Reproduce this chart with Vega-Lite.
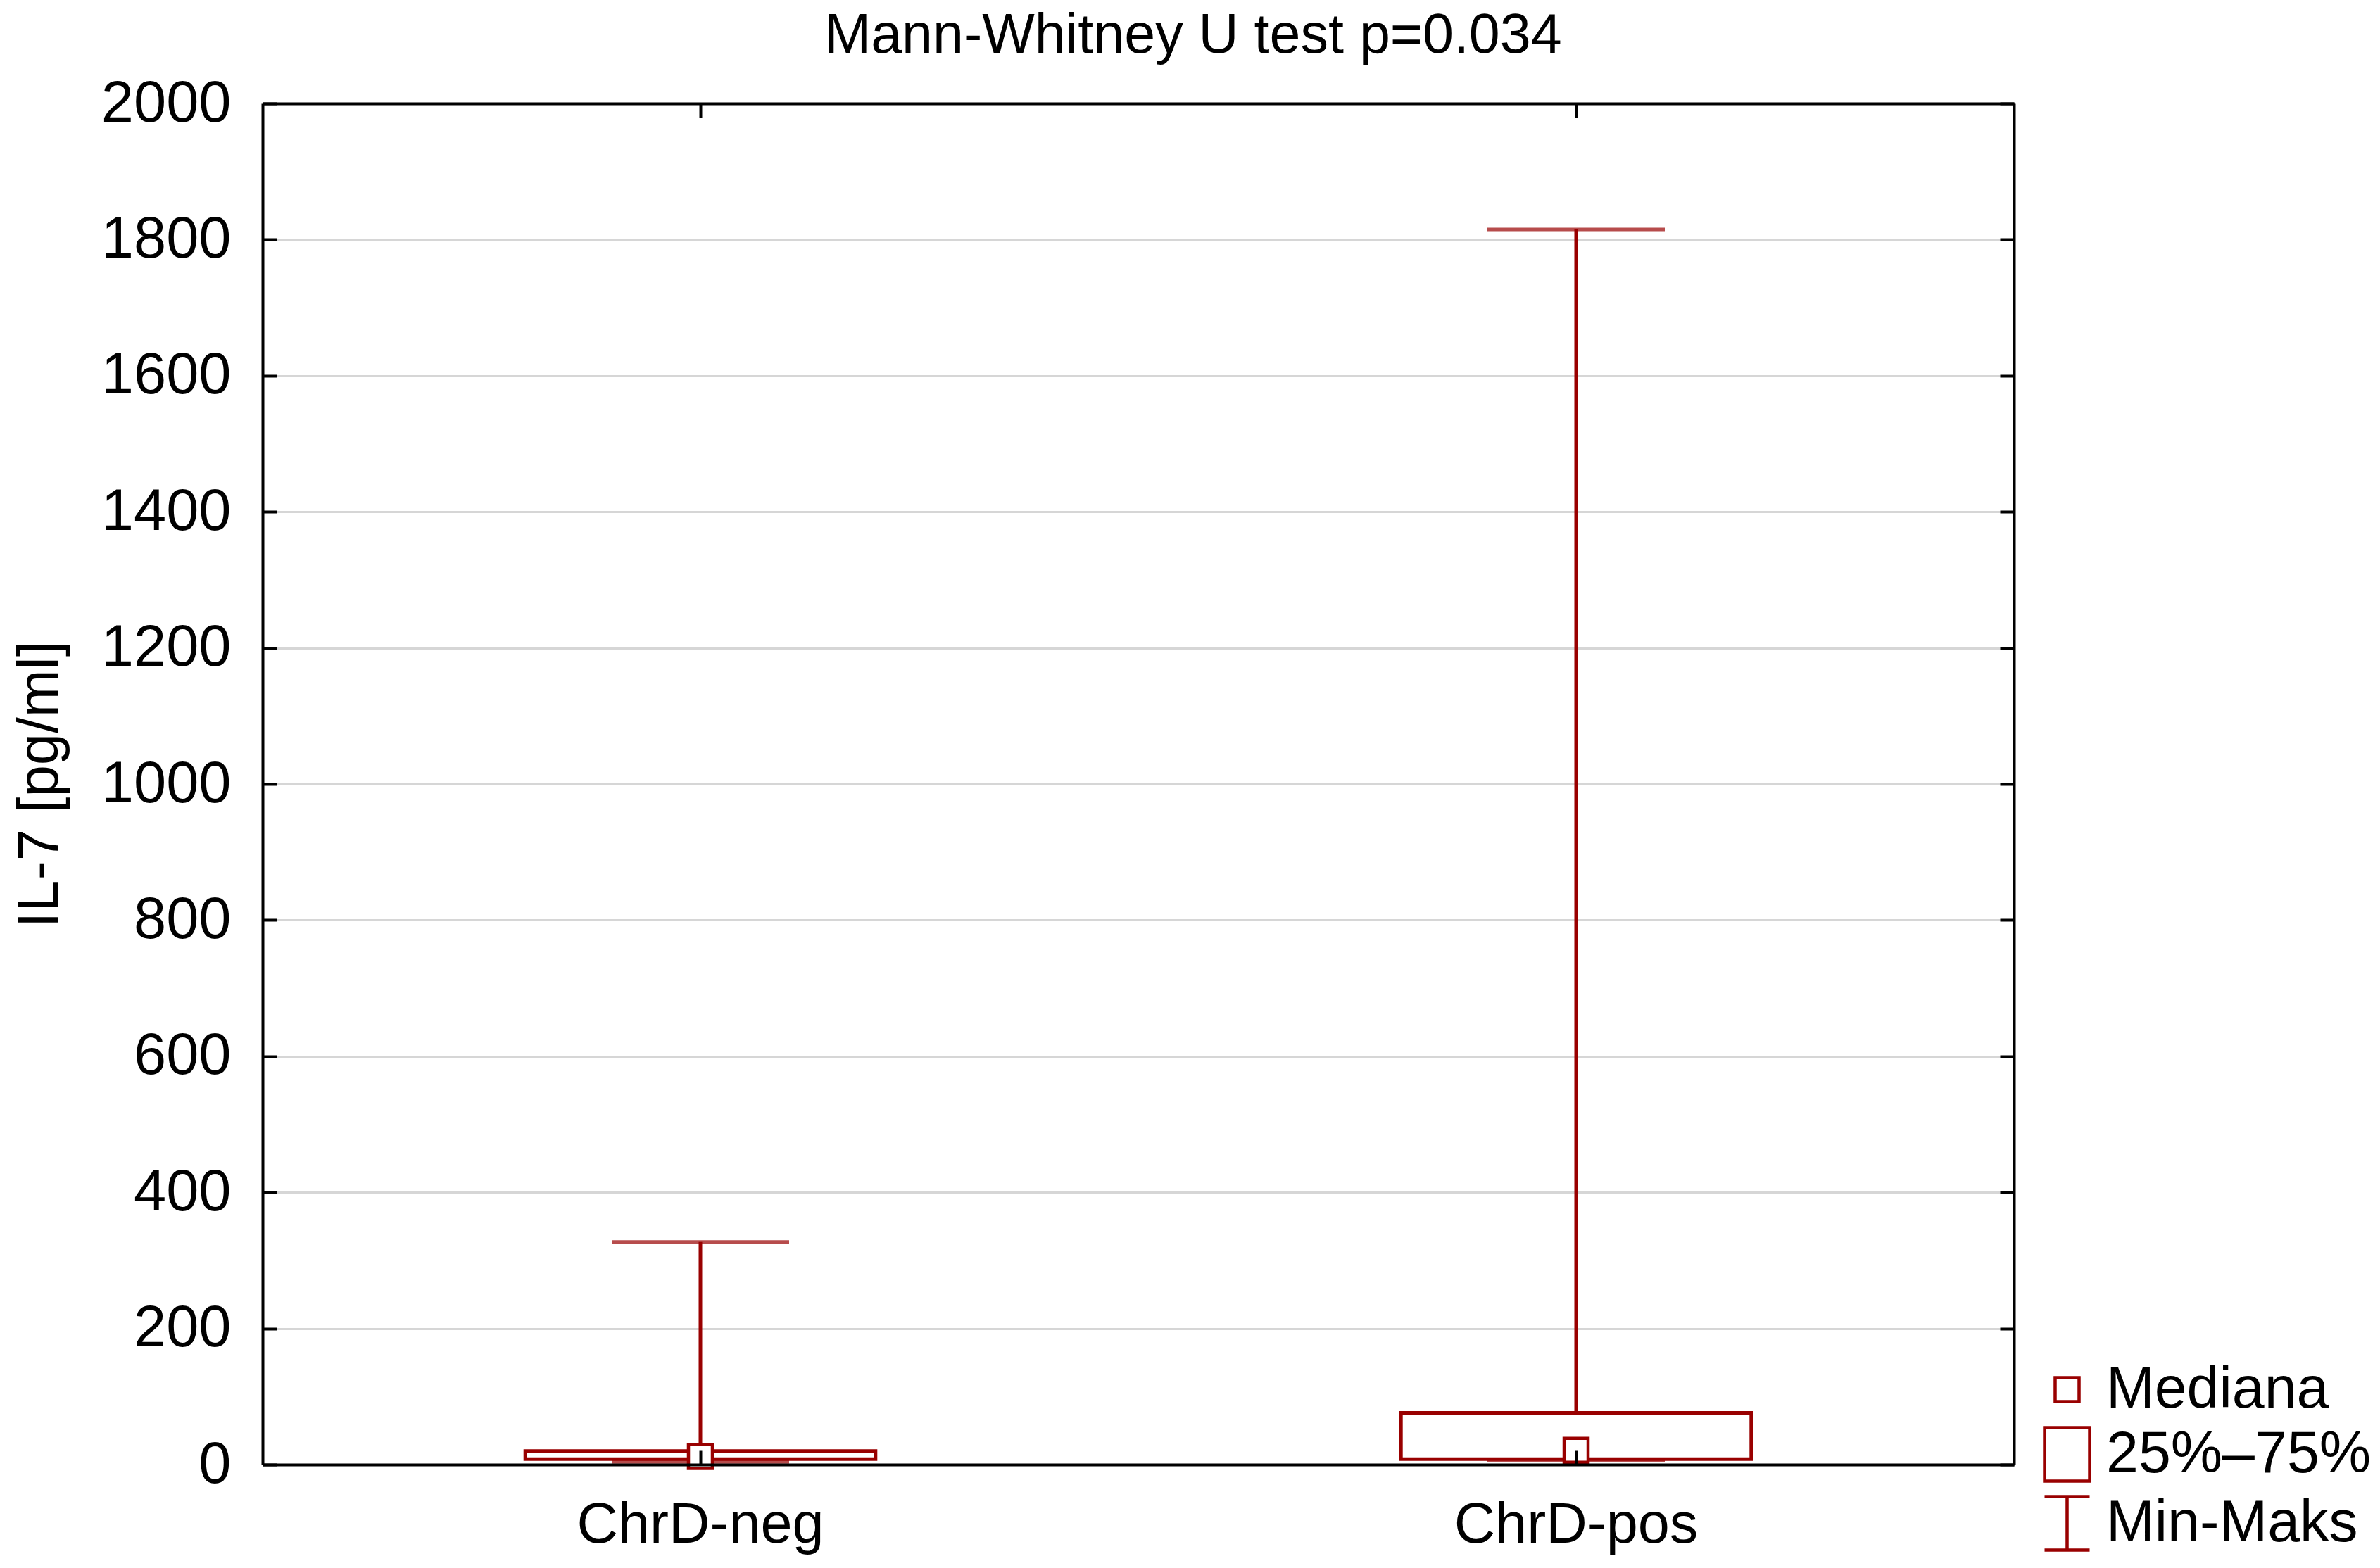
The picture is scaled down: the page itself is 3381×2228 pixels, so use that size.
{
  "$schema": "https://vega.github.io/schema/vega-lite/v6.json",
  "autosize": {"type": "none"},
  "padding": {"left": 373, "top": 147, "right": 520, "bottom": 147},
  "width": 2488,
  "height": 1934,
  "background": "white",
  "config": {
    "view": {"stroke": null},
    "font": "Liberation Sans",
    "axis": {"labelFont": "Liberation Sans", "titleFont": "Liberation Sans", "labelColor": "black", "titleColor": "black", "labelLimit": 0}
  },
  "title": {
    "text": "Mann-Whitney U test p=0.034",
    "font": "Liberation Sans",
    "fontSize": 79,
    "fontWeight": "normal",
    "color": "black",
    "anchor": "middle",
    "frame": "group",
    "dx": 78,
    "offset": 14
  },
  "data": {
    "values": [
      {"group": "ChrD-neg", "min": 4, "q1": 8, "median": 12, "q3": 20, "max": 327},
      {"group": "ChrD-pos", "min": 6, "q1": 8, "median": 21, "q3": 76, "max": 1815}
    ]
  },
  "resolve": {"axis": {"x": "independent", "y": "independent"}},
  "layer": [
    {
      "mark": {"type": "rule", "stroke": "#990000", "strokeWidth": 5},
      "encoding": {
        "x": {
          "field": "group", "type": "nominal", "sort": null,
          "scale": {"type": "band", "paddingInner": 0, "paddingOuter": 0},
          "axis": {
            "orient": "bottom", "title": null, "labelAngle": 0,
            "labelFontSize": 81, "labelPadding": 66, "tickSize": -20,
            "tickWidth": 4, "tickColor": "black", "domainColor": "black",
            "domainWidth": 4, "grid": false, "zindex": 1, "labelLimit": 0
          }
        },
        "y": {
          "field": "min", "type": "quantitative",
          "scale": {"domain": [0, 2000], "nice": false, "zero": true},
          "axis": {
            "orient": "left", "title": "IL-7 [pg/ml]", "titleFontSize": 81.5,
            "titleFontWeight": "normal", "titleX": -275, "titleBaseline": "bottom",
            "titleAngle": 270, "titleAlign": "center", "format": "d",
            "values": [0, 200, 400, 600, 800, 1000, 1200, 1400, 1600, 1800, 2000],
            "labelFontSize": 83, "labelPadding": 65, "tickSize": -20,
            "tickWidth": 4, "tickColor": "black", "domainColor": "black",
            "domainWidth": 4, "grid": true, "gridColor": "#d6d6d6",
            "gridWidth": 3, "zindex": 0, "labelFlush": false, "labelOverlap": false,
            "labelLimit": 0
          }
        },
        "y2": {"field": "max"}
      }
    },
    {
      "mark": {"type": "tick", "color": "#990000", "size": 252, "thickness": 5},
      "encoding": {
        "x": {
          "field": "group", "type": "nominal", "sort": null,
          "axis": {
            "orient": "top", "title": null, "labels": false, "tickSize": -20,
            "tickWidth": 4, "tickColor": "black", "domainColor": "black",
            "domainWidth": 4, "grid": false, "zindex": 1
          }
        },
        "y": {
          "field": "max", "type": "quantitative",
          "axis": {
            "orient": "right", "title": null, "labels": false,
            "values": [0, 200, 400, 600, 800, 1000, 1200, 1400, 1600, 1800, 2000],
            "tickSize": -20, "tickWidth": 4, "tickColor": "black",
            "domainColor": "black", "domainWidth": 4, "grid": false, "zindex": 1
          }
        }
      }
    },
    {
      "mark": {"type": "tick", "color": "#990000", "size": 252, "thickness": 5},
      "encoding": {
        "x": {"field": "group", "type": "nominal", "sort": null, "axis": null},
        "y": {"field": "min", "type": "quantitative", "axis": null}
      }
    },
    {
      "mark": {"type": "bar", "fill": "white", "stroke": "#990000", "strokeWidth": 5, "width": {"band": 0.4}},
      "encoding": {
        "x": {"field": "group", "type": "nominal", "sort": null, "axis": null},
        "y": {"field": "q1", "type": "quantitative", "axis": null},
        "y2": {"field": "q3"}
      }
    },
    {
      "mark": {"type": "point", "shape": "square", "fill": "white", "stroke": "#990000", "strokeWidth": 4.5, "size": 1156, "opacity": 1, "fillOpacity": 1},
      "encoding": {
        "x": {"field": "group", "type": "nominal", "sort": null, "axis": null},
        "y": {"field": "median", "type": "quantitative", "axis": null}
      }
    },
    {
      "data": {
        "values": [
          {"item": "Mediana"},
          {"item": "25%–75%"},
          {"item": "Min-Maks"}
        ]
      },
      "mark": {"type": "point", "filled": false, "stroke": "#990000", "strokeWidth": 4.5, "size": 6400, "opacity": 0},
      "encoding": {
        "shape": {
          "field": "item", "type": "nominal", "sort": null,
          "scale": {
            "domain": ["Mediana", "25%–75%", "Min-Maks"],
            "range": [
              "M-0.425,-0.425H0.425V0.425H-0.425Z",
              "M-0.8,-0.95H0.8V0.95H-0.8Z",
              "M-0.8,-0.95H0.8M0,-0.95V0.95M-0.8,0.95H0.8"
            ]
          },
          "legend": {
            "title": null,
            "orient": "none",
            "legendX": 2521,
            "legendY": 1785,
            "padding": 0,
            "symbolSize": 6400,
            "symbolStrokeColor": "#990000",
            "symbolFillColor": "white",
            "symbolStrokeWidth": 4.5,
            "symbolOpacity": 1,
            "labelFont": "Liberation Sans",
            "labelFontSize": 82.5,
            "labelColor": "black",
            "labelOffset": 13,
            "rowPadding": 3,
            "labelLimit": 0
          }
        }
      }
    }
  ]
}
